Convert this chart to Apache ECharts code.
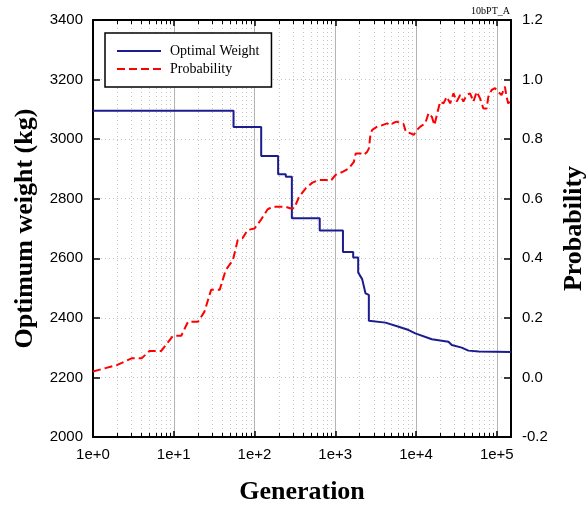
<!DOCTYPE html>
<html>
<head>
<meta charset="utf-8">
<script src="https://cdn.jsdelivr.net/npm/echarts@6/dist/echarts.min.js"></script>
<style>
  html, body { margin: 0; padding: 0; background: #fff; }
  #chart { width: 586px; height: 505px; }
</style>
</head>
<body>
<div id="chart"></div>
<script>
// optimal weight (kg) vs generation, polyline vertices
const weightGen = [1, 55, 55, 121, 121, 196, 196, 244, 244, 290, 290, 642, 642, 1245, 1245, 1667, 1667, 1922, 1922, 2153, 2371, 2500, 2605, 2605, 4180, 6100, 8100, 9800, 15700, 25200, 27700, 36800, 44500, 60000, 150000];
const weightVal = [3095, 3095, 3041, 3041, 2943, 2943, 2882, 2882, 2874, 2874, 2734, 2734, 2693, 2693, 2621, 2621, 2603, 2603, 2552, 2530, 2482, 2477, 2477, 2390, 2384, 2370, 2359, 2348, 2328, 2320, 2309, 2300, 2290, 2287, 2285];

// probability vs generation
const probGen = [1, 2, 3, 4, 5, 7, 9.8, 12.4, 15, 20, 24, 29, 37, 44, 54, 62, 71, 82, 100, 120, 145, 167, 244, 274, 310, 357, 431, 521,
  630, 760, 877, 1010, 1250, 1470, 1700, 1790, 2060, 2250, 2490, 2610, 2740, 2870, 3300, 3830, 4380, 4800, 5280, 5800, 6370, 7000, 7480, 8470, 9350,
  10260, 11300, 13000, 14300, 15700, 16900, 18100, 19900, 21900, 24000, 26500, 29100, 31900, 35200, 38600, 42400, 46700, 51300, 56400, 62100,
  68200, 74900, 78600, 86300, 95000, 104300, 114600, 126200, 132100, 138600, 150000];
const probVal = [0.02, 0.042, 0.064, 0.064, 0.089, 0.089, 0.14, 0.14, 0.187, 0.187, 0.221, 0.294, 0.294, 0.36, 0.394, 0.461, 0.467, 0.495, 0.50, 0.529, 0.564, 0.573, 0.573, 0.568, 0.568, 0.607, 0.635, 0.654,
  0.663, 0.663, 0.66, 0.68, 0.691, 0.702, 0.724, 0.752, 0.752, 0.747, 0.758, 0.769, 0.82, 0.831, 0.842, 0.847, 0.853, 0.847, 0.855, 0.859, 0.853, 0.851, 0.825, 0.82, 0.814,
  0.831, 0.842, 0.853, 0.887, 0.875, 0.847, 0.881, 0.926, 0.92, 0.942, 0.92, 0.954, 0.926, 0.948, 0.926, 0.948, 0.954, 0.926, 0.959, 0.937,
  0.903, 0.903, 0.942, 0.965, 0.971, 0.959, 0.948, 0.976, 0.942, 0.92, 0.93];

// minor decade positions (2..9 x 10^k)
const minorGen = [];
for (let k = 0; k <= 5; k++) {
  for (let m = 2; m <= 9; m++) {
    const v = m * Math.pow(10, k);
    if (v < 150000) minorGen.push(v);
  }
}

const serif = 'Liberation Serif';
const sans = 'Liberation Sans';
const tickLen = 13.4; // ~4px in kg units

const chart = echarts.init(document.getElementById('chart'));

const xCommon = {
  type: 'log',
  logBase: 10,
  min: 1,
  max: 150000,
  splitNumber: 5,
  axisLine: { show: true, onZero: false, lineStyle: { color: '#000', width: 2 } },
  axisTick: { show: true, inside: true, length: 6, lineStyle: { color: '#000', width: 1.5 } }
};

chart.setOption({
  backgroundColor: '#fff',
  animation: false,
  title: {
    text: '10bPT_A',
    right: 76,
    top: 6,
    padding: 0,
    textStyle: { fontFamily: serif, fontSize: 10, fontWeight: 'normal', color: '#000' }
  },
  legend: {
    data: ['Optimal Weight', 'Probability'],
    orient: 'vertical',
    left: 105,
    top: 33,
    padding: [11, 12, 11, 11],
    itemWidth: 44,
    itemHeight: 14,
    itemGap: 4,
    borderColor: '#000',
    borderWidth: 1.5,
    backgroundColor: '#fff',
    itemStyle: { opacity: 0 },
    textStyle: { fontFamily: serif, fontSize: 14, color: '#000', padding: [0, 0, 0, 4] }
  },
  grid: { left: 93, right: 75, top: 20, bottom: 68, outerBoundsMode: 'none', containLabel: false },
  xAxis: [
    Object.assign({}, xCommon, {
      position: 'bottom',
      name: 'Generation',
      nameLocation: 'middle',
      nameGap: 42,
      nameTextStyle: { fontFamily: serif, fontSize: 26, fontWeight: 'bold', color: '#000' },
      axisLabel: {
        margin: 10,
        fontFamily: sans,
        fontSize: 15,
        color: '#000',
        showMaxLabel: false,
        formatter: function (v) {
          const e = Math.log10(v);
          return Math.abs(e - Math.round(e)) < 1e-6 ? '1e+' + Math.round(e) : '';
        }
      },
      splitLine: { show: true, lineStyle: { color: '#b4b4b4', width: 1, type: 'solid' } }
    }),
    Object.assign({}, xCommon, {
      position: 'top',
      axisLabel: { show: false },
      splitLine: { show: false }
    })
  ],
  yAxis: [
    {
      type: 'value',
      position: 'left',
      min: 2000,
      max: 3400,
      interval: 200,
      name: 'Optimum weight (kg)',
      nameLocation: 'middle',
      nameRotate: 90,
      nameGap: 52,
      nameTextStyle: { fontFamily: serif, fontSize: 26, fontWeight: 'bold', color: '#000' },
      axisLine: { show: true, lineStyle: { color: '#000', width: 2 } },
      axisTick: { show: true, inside: true, length: 7, lineStyle: { color: '#000', width: 1.5 } },
      axisLabel: {
        margin: 10, fontFamily: sans, fontSize: 15, color: '#000',
        formatter: function (v) { return String(v); }
      },
      splitLine: { show: true, lineStyle: { color: '#c4c4c4', width: 1, type: [1, 3] } }
    },
    {
      type: 'value',
      position: 'right',
      min: -0.2,
      max: 1.2,
      interval: 0.2,
      name: 'Probability',
      nameLocation: 'middle',
      nameRotate: 90,
      nameGap: 50,
      nameTextStyle: { fontFamily: serif, fontSize: 26, fontWeight: 'bold', color: '#000' },
      axisLine: { show: true, onZero: false, lineStyle: { color: '#000', width: 2 } },
      axisTick: { show: true, inside: true, length: 7, lineStyle: { color: '#000', width: 1.5 } },
      axisLabel: {
        margin: 11, fontFamily: sans, fontSize: 15, color: '#000',
        formatter: function (v) { return v.toFixed(1); }
      },
      splitLine: { show: false }
    }
  ],
  series: [
    {
      // minor grid lines and minor ticks
      name: 'minor',
      type: 'line',
      data: [],
      xAxisIndex: 0,
      yAxisIndex: 0,
      silent: true,
      markLine: {
        silent: true,
        z: 1,
        symbol: 'none',
        label: { show: false },
        emphasis: { disabled: true },
        data: minorGen.map(v => ({
          xAxis: v,
          lineStyle: { color: '#c4c4c4', width: 1, type: [1, 3] }
        })).concat(
          minorGen.map(v => [
            { coord: [v, 2000], lineStyle: { color: '#000', width: 1, type: 'solid' } },
            { coord: [v, 2000 + tickLen] }
          ]),
          minorGen.map(v => [
            { coord: [v, 3400 - tickLen], lineStyle: { color: '#000', width: 1, type: 'solid' } },
            { coord: [v, 3400] }
          ])
        )
      }
    },
    {
      name: 'Optimal Weight',
      type: 'line',
      xAxisIndex: 0,
      yAxisIndex: 0,
      symbol: 'none',
      z: 3,
      data: weightGen.map((g, i) => [g, weightVal[i]]),
      itemStyle: { color: '#1c1c8e' },
      lineStyle: { color: '#1c1c8e', width: 2 }
    },
    {
      name: 'Probability',
      type: 'line',
      xAxisIndex: 0,
      yAxisIndex: 1,
      symbol: 'none',
      z: 4,
      data: probGen.map((g, i) => [g, probVal[i]]),
      itemStyle: { color: '#ff0000' },
      lineStyle: { color: '#ff0000', width: 2, type: [8, 4] }
    }
  ]
});
</script>
</body>
</html>
